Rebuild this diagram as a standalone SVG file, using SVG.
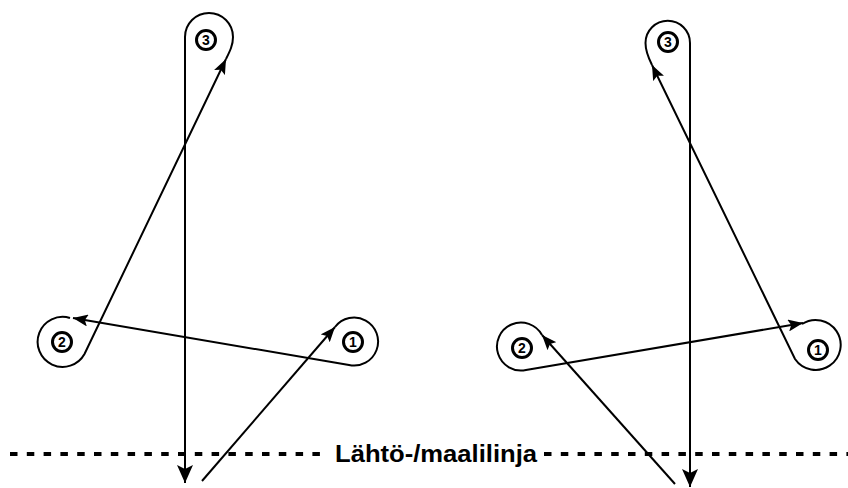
<svg xmlns="http://www.w3.org/2000/svg" width="848" height="488" viewBox="0 0 848 488">
<style>
.ln{fill:none;stroke:#000;stroke-width:2}
.ar{marker-end:url(#ah)}
.arb{marker-end:url(#ahb)}
.ring{fill:#fff;stroke:#000;stroke-width:3}
.num{font-family:"Liberation Sans",Arial,sans-serif;font-weight:bold;font-size:14px;text-anchor:middle;fill:#000}
.dash{stroke:#000;stroke-width:4;stroke-dasharray:7.5 9.3;fill:none}
.lbl{font-family:"Liberation Sans",Arial,sans-serif;font-weight:bold;font-size:23px;fill:#000}
</style>
<defs>
<marker id="ah" markerUnits="userSpaceOnUse" markerWidth="16" markerHeight="12" refX="15" refY="6" orient="auto">
<path d="M0,0 L15,6 L0,12 L3,6 z" fill="#000"/>
</marker>
<marker id="ahb" markerUnits="userSpaceOnUse" markerWidth="18" markerHeight="16" refX="18" refY="8" orient="auto">
<path d="M0,0 L18,8 L0,16 L4,8 z" fill="#000"/>
</marker>
</defs>
<rect width="848" height="488" fill="#fff"/>
<g id="start-line">
<line class="dash" x1="10" y1="454" x2="322" y2="454"/>
<line class="dash" x1="544" y1="454" x2="848" y2="454"/>
<text class="lbl" x="335" y="462" textLength="202" lengthAdjust="spacingAndGlyphs">Lähtö-/maalilinja</text>
</g>
<g id="connectors">
<path class="ln ar" d="M202,481 L335,327"/>
<path class="ln ar" d="M335,327 A24,24 0 1 1 349,365 L73,318"/>
<path class="ln ar" d="M70,318 A25,25 0 1 0 84.5,354 L226,59"/>
<path class="ln arb" d="M226,59 C230,51 233,45 233,37 A24,24 0 0 0 185,37 L185,483"/>
<path class="ln ar" d="M675,484 L542,335"/>
<path class="ln ar" d="M542,335 A24,24 0 1 0 526,370 L803,323"/>
<path class="ln ar" d="M802,324 A25,25 0 1 1 795,359 L652,65"/>
<path class="ln arb" d="M652,65 C648,57 645.5,50 645.5,43 A22.25,22.25 0 0 1 690,43 L690,487"/>
</g>
<g id="left-node-1"><circle class="ring" cx="353" cy="342" r="9.5"/><text class="num" x="353" y="347">1</text></g>
<g id="left-node-2"><circle class="ring" cx="62" cy="342" r="9.5"/><text class="num" x="62" y="347">2</text></g>
<g id="left-node-3"><circle class="ring" cx="206" cy="40" r="9.5"/><text class="num" x="206" y="45">3</text></g>
<g id="right-node-1"><circle class="ring" cx="818" cy="350" r="9.5"/><text class="num" x="818" y="355">1</text></g>
<g id="right-node-2"><circle class="ring" cx="522" cy="348" r="9.5"/><text class="num" x="522" y="353">2</text></g>
<g id="right-node-3"><circle class="ring" cx="668" cy="42" r="9.5"/><text class="num" x="668" y="47">3</text></g>
</svg>
